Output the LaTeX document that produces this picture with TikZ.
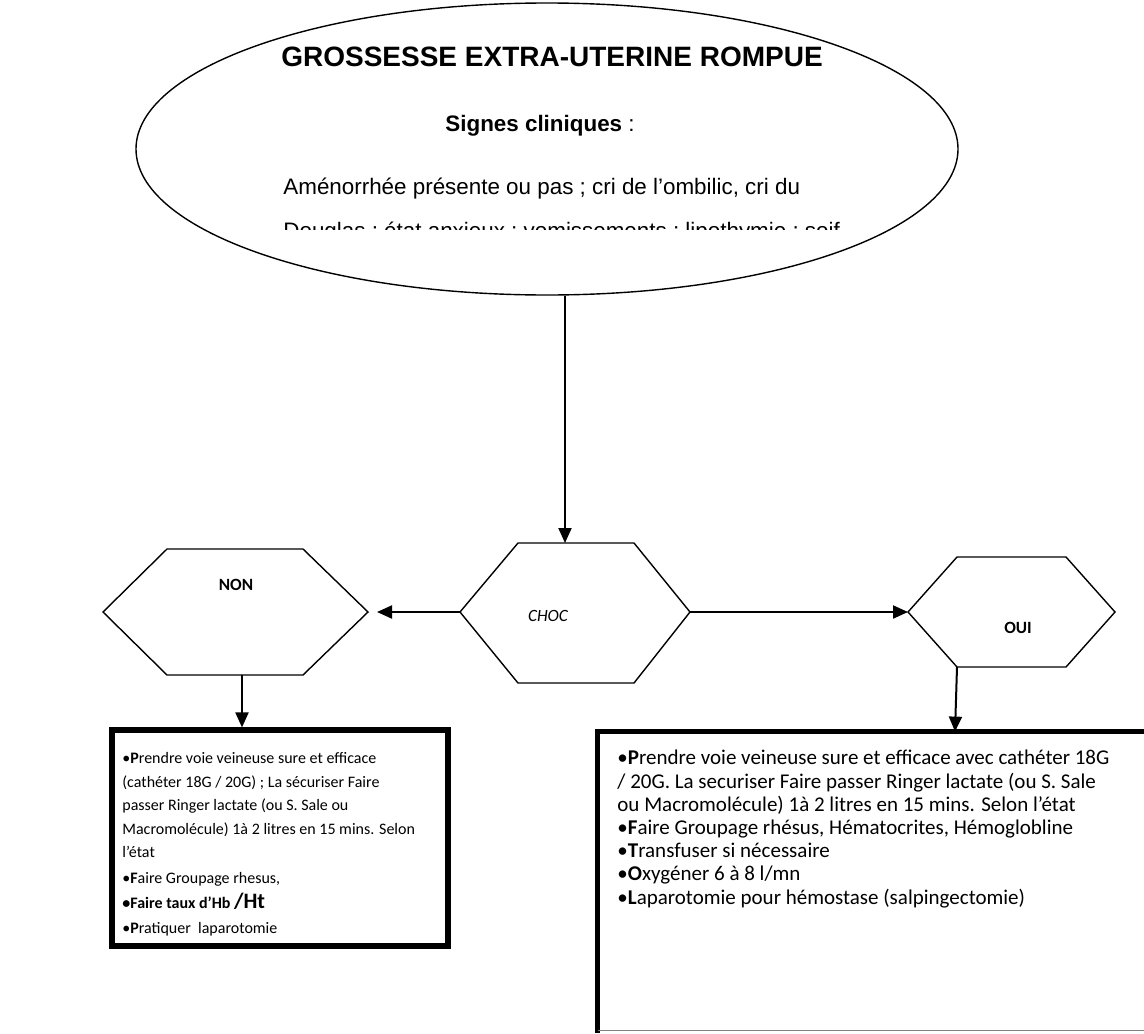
\documentclass[tikz,border=0pt]{standalone}
\usepackage{fontspec}
\setmainfont{Liberation Sans}
\newfontfamily\calfont{Carlito}
\usetikzlibrary{arrows.meta,shapes.geometric}
\tikzset{
  conn/.style={line width=1pt,-{Triangle[length=7.5pt,width=6.5pt]}},
  hexline/.style={line width=0.7pt,line join=miter},
  thickbox/.style={line width=2.6pt},
  lbl/.style={inner sep=0pt,font=\calfont\fontsize{8.6}{10}\selectfont},
  boxtext/.style={inner sep=0pt,anchor=north west,align=left}
}
\begin{document}
\begin{tikzpicture}[x=0.5pt,y=-0.5pt]
\useasboundingbox (0,0) rectangle (1144,1033);
% ellipse
\node[draw,ellipse,line width=0.7pt,minimum width=411pt,minimum height=146pt,inner sep=0pt] (ell) at (547,149) {};
\node[anchor=base,inner sep=0pt,font=\fontsize{14}{17}\selectfont\bfseries] (title) at (552,66) {GROSSESSE EXTRA-UTERINE ROMPUE};
\node[anchor=base,inner sep=0pt,font=\fontsize{11.2}{14}\selectfont] (signes) at (540,131) {\textbf{Signes cliniques} :};
\node[anchor=base west,inner sep=0pt,font=\fontsize{11.2}{14}\selectfont] (amen) at (283,194) {Aménorrhée présente ou pas ; cri de l’ombilic, cri du};
\begin{scope}
\clip (270,203) rectangle (840,229);
\node[anchor=base west,inner sep=0pt,font=\fontsize{11.2}{14}\selectfont] (amen2) at (283,238) {Douglas ; état anxieux ; vomissements ; lipothymie ; soif ; pâleur};
\end{scope}
% hexagons
\coordinate (chocL) at (460,612);
\coordinate (chocR) at (690,612);
\coordinate (chocT) at (565,543);
\draw[hexline] (chocL) -- (518,543) -- (634,543) -- (chocR) -- (634,683) -- (518,683) -- cycle;
\node[lbl,font=\calfont\fontsize{8.6}{10}\selectfont\itshape] (choc) at (548,616) {CHOC};
\coordinate (nonR) at (377,612);
\coordinate (nonB) at (242,675);
\draw[hexline] (103,612) -- (167,549) -- (303,549) -- (368,612) -- (303,675) -- (167,675) -- cycle;
\node[lbl,font=\calfont\fontsize{8.6}{10}\selectfont\bfseries] (non) at (236,585) {NON};
\coordinate (ouiL) at (908,612);
\coordinate (ouiB) at (957,667);
\draw[hexline] (ouiL) -- (957,557) -- (1066,557) -- (1115,612) -- (1066,667) -- (ouiB) -- cycle;
\node[lbl,font=\calfont\fontsize{8.6}{10}\selectfont\bfseries] (oui) at (1018,628) {OUI};
% boxes
\node[draw,thickbox,minimum width=168pt,minimum height=108pt,inner sep=0pt] (lbox) at (280,838) {};
\node[inner sep=0pt,minimum width=280pt,minimum height=149pt] (rbox) at (878,881) {};
\draw[thickbox,line cap=rect] (rbox.north east) -- (rbox.north west) -- (rbox.south west);
\draw[line width=0.6pt,gray] (rbox.south west) -- (rbox.south east);
\node[boxtext,font=\calfont\fontsize{8}{11.75}\selectfont] (ltext) at (122,752) {%
•\textbf{P}rendre voie veineuse sure et efficace\\
(cathéter 18G / 20G) ; La sécuriser Faire\\
passer Ringer lactate (ou S. Sale ou\\
Macromolécule) 1à 2 litres en 15 mins. Selon\\
l’état\\[1.3pt]
•\textbf{F}aire Groupage rhesus,\\[0.8pt]
\textbf{•Faire taux d’Hb {\fontsize{11}{11}\selectfont /Ht}}\\[0.5pt]
•\textbf{P}ratiquer\ \ laparotomie};
\node[boxtext,font=\calfont\fontsize{10.5}{11.6}\selectfont] (rtext) at (617,750) {%
•\textbf{P}rendre voie veineuse sure et efficace avec cathéter 18G\\
/ 20G. La securiser Faire passer Ringer lactate (ou S. Sale\\
ou Macromolécule) 1à 2 litres en 15 mins. Selon l’état\\
•\textbf{F}aire Groupage rhésus, Hématocrites, Hémoglobline\\
•\textbf{T}ransfuser si nécessaire\\
•\textbf{O}xygéner 6 à 8 l/mn\\
•\textbf{L}aparotomie pour hémostase (salpingectomie)};
% connectors
\draw[conn] (ell.south -| chocT) -- (chocT);
\draw[conn] (chocL) -- (nonR);
\draw[conn] (chocR) -- (ouiL);
\draw[conn] (nonB) -- (lbox.north -| nonB);
\draw[conn] (ouiB) -- (rbox.north -| 955,0);
\end{tikzpicture}
\end{document}
